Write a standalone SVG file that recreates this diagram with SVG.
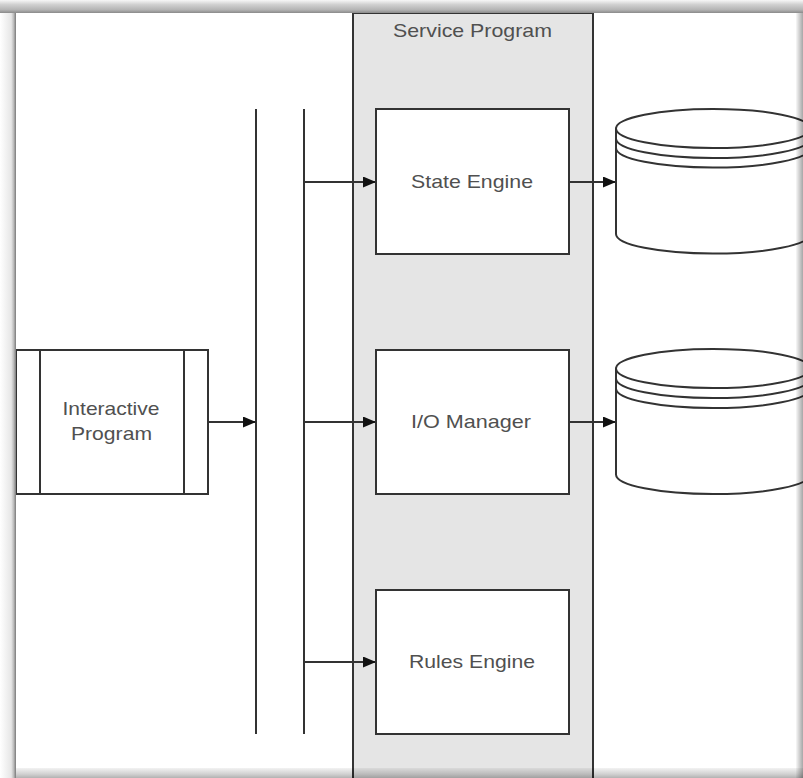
<svg xmlns="http://www.w3.org/2000/svg" width="803" height="778" viewBox="0 0 803 778">
  <style>
    .ln { stroke:#333; stroke-width:2; fill:none; }
    .box { stroke:#333; stroke-width:2; fill:#fff; }
    .cyl { stroke:#333; stroke-width:2; fill:#fff; }
    .t { font-family:"Liberation Sans", Arial, sans-serif; font-size:19px; fill:#505050; text-anchor:middle; }
  </style>
  <defs>
    <marker id="arr" viewBox="0 0 13 11" refX="13" refY="5.5" markerWidth="13" markerHeight="11" markerUnits="userSpaceOnUse" orient="auto">
      <path d="M0,0 L13,5.5 L0,11 Z" fill="#111"/>
    </marker>
    <linearGradient id="gTop" x1="0" y1="0" x2="0" y2="1">
      <stop offset="0" stop-color="#f7f7f7"/>
      <stop offset="0.35" stop-color="#d0d0d0"/>
      <stop offset="0.75" stop-color="#b4b4b4"/>
      <stop offset="1" stop-color="#8a8a8a"/>
    </linearGradient>
    <linearGradient id="gLeft" x1="0" y1="0" x2="1" y2="0">
      <stop offset="0" stop-color="#ffffff"/>
      <stop offset="0.7" stop-color="#e6e6e6"/>
      <stop offset="0.85" stop-color="#bdbdbd"/>
      <stop offset="1" stop-color="#7a7a7a"/>
    </linearGradient>
    <linearGradient id="gBottom" x1="0" y1="0" x2="0" y2="1">
      <stop offset="0" stop-color="#000" stop-opacity="0.05"/>
      <stop offset="0.6" stop-color="#000" stop-opacity="0.18"/>
      <stop offset="1" stop-color="#000" stop-opacity="0.3"/>
    </linearGradient>
    <linearGradient id="gRight" x1="0" y1="0" x2="1" y2="0">
      <stop offset="0" stop-color="#000" stop-opacity="0.03"/>
      <stop offset="1" stop-color="#000" stop-opacity="0.35"/>
    </linearGradient>
  </defs>

  <rect x="0" y="0" width="803" height="778" fill="#fff"/>

  <g id="service-program">
    <rect x="353" y="13" width="240" height="770" fill="#e5e5e5" stroke="#333" stroke-width="2"/>
    <text class="t" x="472.5" y="37" textLength="159" lengthAdjust="spacingAndGlyphs">Service Program</text>
  </g>

  <g id="connectors">
    <line class="ln" x1="256" y1="109" x2="256" y2="734"/>
    <line class="ln" x1="304" y1="109" x2="304" y2="734"/>
    <line class="ln" x1="208" y1="422" x2="256" y2="422" marker-end="url(#arr)"/>
    <line class="ln" x1="304" y1="182" x2="376" y2="182" marker-end="url(#arr)"/>
    <line class="ln" x1="304" y1="422" x2="376" y2="422" marker-end="url(#arr)"/>
    <line class="ln" x1="304" y1="662" x2="376" y2="662" marker-end="url(#arr)"/>
    <line class="ln" x1="569" y1="182" x2="616" y2="182" marker-end="url(#arr)"/>
    <line class="ln" x1="569" y1="422" x2="616" y2="422" marker-end="url(#arr)"/>
  </g>

  <g id="interactive-program">
    <rect class="box" x="16" y="350" width="192" height="144"/>
    <line class="ln" x1="40" y1="350" x2="40" y2="494"/>
    <line class="ln" x1="184" y1="350" x2="184" y2="494"/>
    <text class="t" x="111" y="415" textLength="97" lengthAdjust="spacingAndGlyphs">Interactive</text>
    <text class="t" x="111.5" y="440" textLength="81" lengthAdjust="spacingAndGlyphs">Program</text>
  </g>

  <g id="state-engine">
    <rect class="box" x="376" y="109" width="193" height="145"/>
    <text class="t" x="472" y="188" textLength="122" lengthAdjust="spacingAndGlyphs">State Engine</text>
  </g>

  <g id="io-manager">
    <rect class="box" x="376" y="350" width="193" height="144"/>
    <text class="t" x="471" y="428" textLength="120" lengthAdjust="spacingAndGlyphs">I/O Manager</text>
  </g>

  <g id="rules-engine">
    <rect class="box" x="376" y="590" width="193" height="144"/>
    <text class="t" x="472" y="668" textLength="126" lengthAdjust="spacingAndGlyphs">Rules Engine</text>
  </g>

  <g id="datastore-1">
    <path class="cyl" d="M616,128.5 L616,234 A97,19.5 0 0 0 810,234 L810,128.5 Z"/>
    <ellipse class="cyl" cx="713" cy="128.5" rx="97" ry="19.5"/>
    <path class="ln" d="M616,128.5 A97,19.5 0 0 0 810,128.5" transform="translate(0,10)"/>
    <path class="ln" d="M616,128.5 A97,19.5 0 0 0 810,128.5" transform="translate(0,19.5)"/>
  </g>

  <g id="datastore-2">
    <path class="cyl" d="M616,368.5 L616,474.5 A97,19.5 0 0 0 810,474.5 L810,368.5 Z"/>
    <ellipse class="cyl" cx="713" cy="368.5" rx="97" ry="19.5"/>
    <path class="ln" d="M616,368.5 A97,19.5 0 0 0 810,368.5" transform="translate(0,10)"/>
    <path class="ln" d="M616,368.5 A97,19.5 0 0 0 810,368.5" transform="translate(0,20)"/>
  </g>

  <g id="frame">
    <rect x="0" y="0" width="803" height="13" fill="url(#gTop)"/>
    <rect x="0" y="13" width="16" height="765" fill="url(#gLeft)"/>
    <rect x="16" y="768" width="787" height="10" fill="url(#gBottom)"/>
    <rect x="796" y="13" width="7" height="765" fill="url(#gRight)"/>
  </g>
</svg>
